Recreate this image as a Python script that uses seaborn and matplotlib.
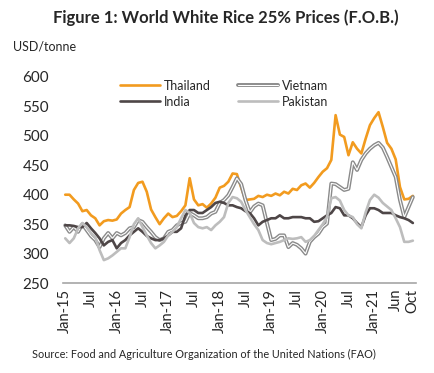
import matplotlib
matplotlib.use("Agg")
import matplotlib.pyplot as plt
import matplotlib.patheffects as pe
import seaborn as sns
import numpy as np

# Monthly FOB prices, Jan-15 .. Oct-21 (USD/tonne)
thailand = [400, 400, 392, 385, 372, 374, 365, 360, 348, 355, 357, 356,
            358, 368, 374, 379, 408, 420, 422, 405, 375, 362, 350, 360,
            368, 362, 364, 372, 382, 428, 392, 382, 384, 378, 385, 395,
            412, 415, 422, 436, 435, 412, 391, 392, 393, 398, 396, 400,
            398, 402, 399, 405, 402, 410, 408, 416, 419, 412, 420, 430,
            439, 445, 459, 535, 502, 498, 467, 489, 478, 470, 495, 518,
            530, 540, 515, 488, 478, 460, 413, 392, 393, 398]
vietnam = [348, 337, 345, 337, 350, 340, 330, 323, 311, 326, 335, 326,
           335, 331, 335, 343, 345, 357, 354, 345, 337, 328, 323, 326,
           337, 340, 348, 352, 354, 369, 365, 360, 360, 362, 368, 371,
           386, 391, 399, 413, 428, 418, 391, 370, 380, 385, 382, 352,
           323, 325, 331, 331, 311, 318, 315, 309, 300, 320, 328, 334,
           345, 351, 419, 418, 413, 408, 410, 455, 442, 459, 470, 478,
           484, 488, 480, 464, 447, 430, 391, 362, 379, 396]
india = [348, 348, 347, 345, 345, 352, 343, 335, 326, 314, 320, 323,
         309, 318, 323, 331, 337, 343, 337, 330, 326, 323, 323, 326,
         331, 337, 337, 343, 365, 374, 374, 369, 369, 374, 379, 386,
         388, 386, 382, 382, 379, 377, 372, 369, 360, 348, 354, 357,
         360, 360, 365, 360, 360, 362, 362, 362, 360, 360, 354, 355,
         360, 365, 369, 379, 377, 365, 365, 360, 352, 345, 365, 377,
         377, 374, 369, 369, 369, 365, 362, 360, 357, 352]
pakistan = [326, 318, 326, 343, 352, 345, 335, 328, 306, 289, 292, 297,
            303, 309, 309, 328, 350, 360, 345, 331, 318, 309, 314, 320,
            331, 337, 345, 360, 374, 369, 352, 345, 343, 345, 340, 348,
            354, 362, 386, 396, 394, 388, 374, 362, 350, 340, 323, 318,
            316, 318, 320, 323, 326, 325, 326, 328, 320, 323, 330, 340,
            350, 362, 394, 396, 390, 374, 365, 362, 350, 343, 370, 391,
            400, 395, 386, 380, 374, 360, 345, 320, 320, 322]

tick_pos = [0, 6, 12, 18, 24, 30, 36, 42, 48, 54, 60, 66, 72, 77, 81]
tick_labels = ["Jan-15", "Jul", "Jan-16", "Jul", "Jan-17", "Jul", "Jan-18",
               "Jul", "Jan-19", "Jul", "Jan-20", "Jul", "Jan-21", "Jun", "Oct"]

sns.set_style("white")
plt.rcParams['font.family'] = ['Lato', 'DejaVu Sans']

fig = plt.figure(figsize=(4.35, 3.73), dpi=100)
ax = fig.add_axes([0.145, 0.241, 0.811, 0.553])

months = np.arange(len(thailand))

sns.lineplot(x=months, y=thailand, color="#F29B1F", lw=1.9, label="Thailand", ax=ax)
sns.lineplot(x=months, y=vietnam, color="white", lw=0.8, label="Vietnam", ax=ax,
             path_effects=[pe.Stroke(linewidth=2.8, foreground="#8A8A8A"), pe.Normal()])
sns.lineplot(x=months, y=india, color="#4E4647", lw=1.9, label="India", ax=ax)
sns.lineplot(x=months, y=pakistan, color="#BDBDBD", lw=1.9, label="Pakistan", ax=ax)

ax.set_xlim(-0.5, 81.7)
ax.set_ylim(250, 600)
ax.set_yticks(range(250, 601, 50))
ax.set_xticks(tick_pos)
ax.set_xticklabels(tick_labels, rotation=90, fontsize=10.5)
ax.tick_params(axis='y', labelsize=11, length=0, pad=10)
ax.tick_params(axis='x', length=0, pad=4)
for s in ["top", "right", "left"]:
    ax.spines[s].set_visible(False)
ax.spines["bottom"].set_color("#A6A6A6")
ax.spines["bottom"].set_linewidth(1.2)

handles, labels = ax.get_legend_handles_labels()
order = [0, 2, 1, 3]
ax.legend([handles[i] for i in order], [labels[i] for i in order],
          ncol=2, frameon=False, fontsize=9, loc='upper left',
          bbox_to_anchor=(0.13, 1.04), handlelength=3.2, handletextpad=0.3,
          columnspacing=2.2, labelspacing=0.3)

fig.text(0.52, 0.952, "Figure 1: World White Rice 25% Prices (F.O.B.)",
         ha="center", va="center", fontsize=12, fontweight="bold")
fig.text(0.03, 0.874, "USD/tonne", ha="left", va="center", fontsize=9)
fig.text(0.074, 0.051, "Source: Food and Agriculture Organization of the United Nations (FAO)",
         ha="left", va="center", fontsize=7.8)

fig.savefig("out.png", dpi=100)
